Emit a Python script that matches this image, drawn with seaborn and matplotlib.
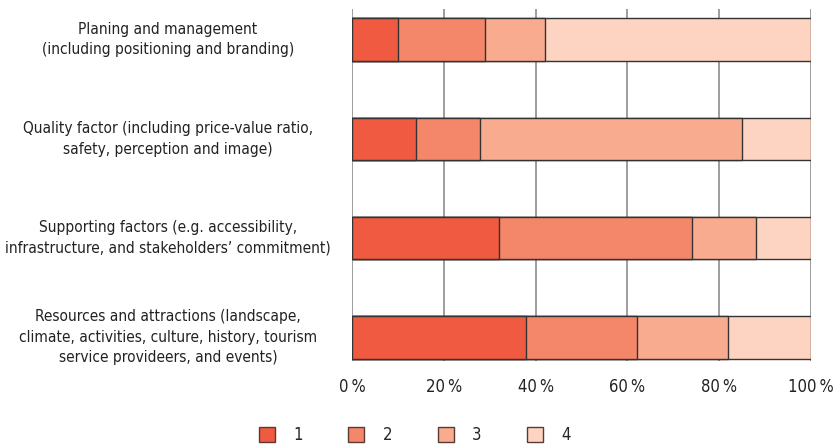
import numpy as np
import pandas as pd
import matplotlib
matplotlib.use("Agg")
import matplotlib.pyplot as plt
import matplotlib.transforms as mtransforms
from matplotlib.patches import Patch
import seaborn as sns

# ---------------- data ----------------
categories = [
    "Planing and management\n(including positioning and branding)",
    "Quality factor (including price-value ratio,\nsafety, perception and image)",
    "Supporting factors (e.g. accessibility,\ninfrastructure, and stakeholders\u2019 commitment)",
    "Resources and attractions (landscape,\nclimate, activities, culture, history, tourism\nservice provideers, and events)",
]
series_names = ["1", "2", "3", "4"]
share_1 = [10, 14, 32, 38]
share_2 = [19, 14, 42, 24]
share_3 = [13, 57, 14, 20]
share_4 = [58, 15, 12, 18]
x_ticks = [0, 20, 40, 60, 80, 100]

colors = ["#f05a40", "#f4876a", "#f9ab8f", "#fdd3c1"]

# ---------------- plot ----------------
sns.set_theme(style="white")
plt.rcParams["font.family"] = ["DejaVu Sans"]
plt.rcParams["font.stretch"] = "condensed"
fsize = 11.1

df = pd.DataFrame({"cat": categories, "1": share_1, "2": share_2, "3": share_3, "4": share_4})
cum = df[series_names].cumsum(axis=1)

fig = plt.figure(figsize=(8.4, 4.45), dpi=100)
ax = fig.add_axes([0.419, 0.1888, 0.5465, 0.791])

for x in x_ticks:
    ax.axvline(x, color="#8c8c8c", lw=1.2, zorder=0)

# draw cumulative layers from the back to the front
for name, col in reversed(list(zip(series_names, colors))):
    sns.barplot(x=cum[name], y=df["cat"], orient="h", color=col, width=0.43,
                edgecolor="#333333", linewidth=1.0, ax=ax, zorder=2, saturation=1)

ax.set_xlim(0, 100)
ax.set_ylim(3.24, -0.31)
ax.set_xticks(x_ticks)
ax.set_xticklabels([f"{v}\u2009%" for v in x_ticks], fontsize=12, color="#222222")
ax.tick_params(axis="x", length=0, pad=12)
ax.set_yticks([])
ax.set_xlabel("")
ax.set_ylabel("")
for s in ax.spines.values():
    s.set_visible(False)

trans = mtransforms.blended_transform_factory(ax.transAxes, ax.transData)
for i, lab in enumerate(categories):
    ax.text(-0.401, i, lab, transform=trans, ha="center", va="center",
            fontsize=fsize, color="#222222", linespacing=1.45)

handles = [Patch(facecolor=c, edgecolor="#5a3a33", linewidth=1.0) for c in colors]
fig.legend(handles, series_names, loc="center", bbox_to_anchor=(0.494, 0.022), ncol=4,
           frameon=False, fontsize=12, handlelength=0.95, handleheight=0.95,
           handletextpad=1.1, columnspacing=2.75)

fig.savefig("out.png", dpi=100)
